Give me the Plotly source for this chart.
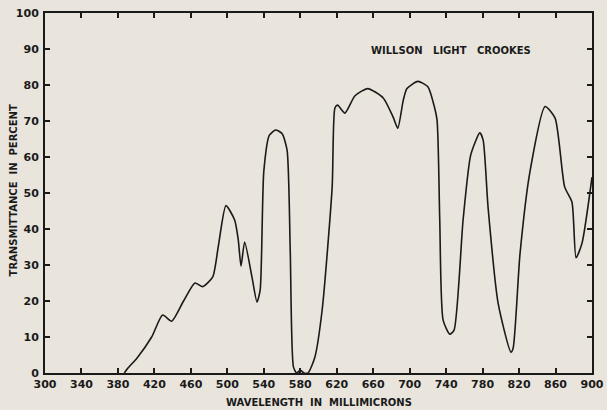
import plotly.graph_objects as go

# Transmittance curve (wavelength in millimicrons, percent)
wavelength = [387, 391, 401, 417, 429, 439, 452, 464.5, 473, 484, 490, 498.5, 508, 512, 515,
              519, 527, 532.5, 536, 540, 546, 553, 560, 565.5, 569, 572.5, 576, 580,
              584, 588.5, 596, 604, 615, 618, 621, 629, 640, 654, 671, 682, 687, 693,
              697, 709, 720, 725.7, 730, 733, 736.7, 744, 748.7, 758.6, 767, 777, 780.6,
              786, 797, 811, 813.5, 821, 832, 848.5, 859.5, 870, 878, 882.5, 889, 900]
transmittance = [0, 1.4, 4.2, 10, 16.1, 14.4, 20, 25, 24, 26.7, 35, 46.5, 42.5, 37, 29.7,
                 36.4, 26.7, 19.7, 23, 56, 66, 67.5, 66.5, 62, 34, 1.7, 0, 0.8,
                 0, 0, 4.4, 17.5, 51.7, 73.6, 74.4, 72.2, 77, 79, 76.4, 71, 68, 75.8,
                 79, 81, 79.5, 75.3, 70.3, 42.5, 14.7, 10.8, 11.9, 42.5, 60.6, 66.7, 64.7,
                 46, 19.4, 5.8, 6.9, 33, 56, 74, 70.8, 51.7, 47.5, 32, 36, 54.4]

x_ticks = list(range(300, 901, 40))
y_ticks = list(range(0, 101, 10))

ink = "#1a1a1a"
paper = "#e9e5dc"
label_font = dict(family="DejaVu Sans", size=10, color=ink, weight="bold")

fig = go.Figure()
fig.add_trace(go.Scatter(x=wavelength, y=transmittance, mode="lines",
                         line=dict(color=ink, width=1.6, shape="spline", smoothing=0.6),
                         showlegend=False, hoverinfo="skip"))

# curve label inside the plot
fig.add_annotation(x=745, y=89.5, text="WILLSON   LIGHT   CROOKES", showarrow=False,
                   font=label_font)

# axis titles placed by hand so the margins stay fixed
fig.add_annotation(xref="paper", yref="paper", x=0.501, y=-0.081,
                   xanchor="center", yanchor="middle",
                   text="WAVELENGTH  IN  MILLIMICRONS", showarrow=False, font=label_font)
fig.add_annotation(xref="paper", yref="paper", x=-0.058, y=0.508, textangle=-90,
                   xanchor="center", yanchor="middle",
                   text="TRANSMITTANCE  IN  PERCENT", showarrow=False, font=label_font)

axis_common = dict(showgrid=False, zeroline=False, showline=True, linecolor=ink, linewidth=2,
                   mirror="ticks", ticks="inside", ticklen=5, tickwidth=1.5, tickcolor=ink,
                   automargin=False,
                   tickfont=dict(family="DejaVu Sans", size=11, color=ink, weight="bold"))

fig.update_xaxes(range=[300, 900], tickvals=x_ticks, ticklabelstandoff=0, **axis_common)
fig.update_yaxes(range=[0, 100], tickvals=y_ticks, ticklabelstandoff=2, **axis_common)

fig.update_layout(width=607, height=410, paper_bgcolor=paper, plot_bgcolor=paper,
                  margin=dict(l=45, r=15, t=13, b=37))

# drop the page's default body margin so the figure sits at the window corner
fig.write_html("out.html", config={"displayModeBar": False},
               post_script="document.body.style.margin='0';")
